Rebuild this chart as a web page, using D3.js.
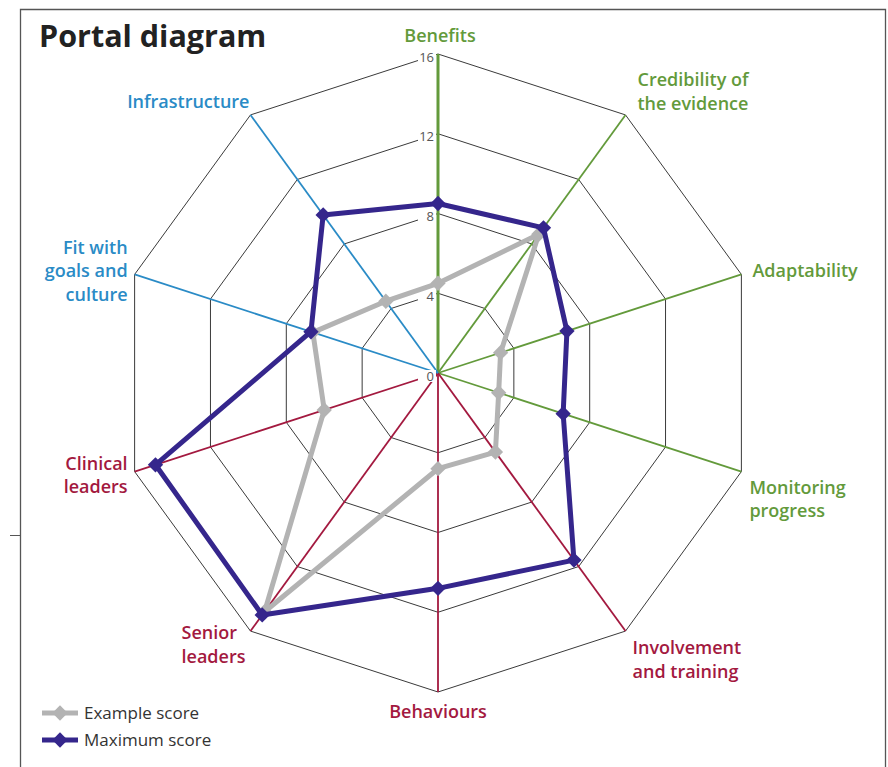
<!DOCTYPE html>
<html>
<head>
<meta charset="utf-8">
<script src="https://cdnjs.cloudflare.com/ajax/libs/d3/7.8.5/d3.min.js"></script>
<style>
  body { margin: 0; background: #fff; }
  svg { display: block; }
</style>
</head>
<body>
<div id="chart"></div>
<script>
// axis names, clockwise from the top
var categories = ["Benefits", "Credibility of\nthe evidence", "Adaptability", "Monitoring\nprogress",
  "Involvement\nand training", "Behaviours", "Senior\nleaders", "Clinical\nleaders",
  "Fit with\ngoals and\nculture", "Infrastructure"];
var groups = ["green", "green", "green", "green", "red", "red", "red", "red", "blue", "blue"];
var exampleScore = [4.5, 8.6, 3.3, 3.2, 4.9, 4.8, 14.8, 6, 6.6, 4.45];
var maximumScore = [8.5, 9, 6.8, 6.6, 11.6, 10.8, 15, 14.9, 6.7, 9.8];
var ticks = [0, 4, 8, 12, 16];
var seriesNames = ["Example score", "Maximum score"];

var width = 888, height = 767;
var cx = 438, cy = 373, R = 319;
var colors = {green: "#639a3b", red: "#a3193f", blue: "#2a8bc6"};
var seriesColors = ["#b3b3b3", "#35268c"];
var font = "'Open Sans', sans-serif";

var svg = d3.select("#chart").append("svg")
    .attr("width", width)
    .attr("height", height);

// frame
svg.append("path")
    .attr("d", "M20.5,767 V9.5 H885.5 V767")
    .attr("fill", "none")
    .attr("stroke", "#555")
    .attr("stroke-width", 1.3);
svg.append("line")
    .attr("x1", 10).attr("x2", 21).attr("y1", 535.5).attr("y2", 535.5)
    .attr("stroke", "#555");

svg.append("text")
    .attr("x", 39).attr("y", 47)
    .style("font-family", font)
    .style("font-weight", 700)
    .style("font-size", "30.5px")
    .attr("fill", "#222")
    .text("Portal diagram");

var g = svg.append("g").attr("transform", "translate(" + cx + "," + cy + ")");

var r = d3.scaleLinear().domain([0, 16]).range([0, R]);
var angle = d3.scaleLinear().domain([0, categories.length]).range([0, 2 * Math.PI]);

function pt(i, v) {
  var a = angle(i);
  return [r(v) * Math.sin(a), -r(v) * Math.cos(a)];
}

// rings
ticks.slice(1).forEach(function(t) {
  g.append("path")
      .attr("d", d3.line()(categories.map(function(c, i) { return pt(i, t); })) + "Z")
      .attr("fill", "none")
      .attr("stroke", "#3a3a3a")
      .attr("stroke-width", 1);
});

// axes
categories.forEach(function(c, i) {
  var p = pt(i, 16);
  g.append("line")
      .attr("x1", 0).attr("y1", 0)
      .attr("x2", p[0]).attr("y2", p[1])
      .attr("stroke", colors[groups[i]])
      .attr("stroke-width", i == 0 ? 3 : 1.8);
});

// tick labels on the top axis
ticks.forEach(function(t) {
  var y = -r(t) + 3;
  g.append("rect")
      .attr("x", -20).attr("y", y - 6)
      .attr("width", 18).attr("height", 12)
      .attr("fill", "#fff");
  g.append("text")
      .attr("x", -4).attr("y", y)
      .attr("dy", "0.35em")
      .attr("text-anchor", "end")
      .style("font-family", font)
      .style("font-size", "13px")
      .attr("fill", "#555")
      .text(t);
});

// series
var line = d3.line().curve(d3.curveLinearClosed);
[exampleScore, maximumScore].forEach(function(data, s) {
  var pts = data.map(function(v, i) { return pt(i, v); });
  g.append("path")
      .attr("d", line(pts))
      .attr("fill", "none")
      .attr("stroke", seriesColors[s])
      .attr("stroke-width", 5)
      .attr("stroke-linejoin", "round");
  g.selectAll(null).data(pts).enter().append("path")
      .attr("d", d3.symbol().type(d3.symbolDiamond2).size(150))
      .attr("transform", function(d) { return "translate(" + d[0] + "," + d[1] + ")"; })
      .attr("fill", seriesColors[s]);
});

// axis labels: anchor and offset from the outer vertex
var labelLayout = [
  {anchor: "middle", dx: 2, dy: -18},
  {anchor: "start", dx: 12, dy: -35},
  {anchor: "start", dx: 11, dy: -4},
  {anchor: "start", dx: 8, dy: 16},
  {anchor: "start", dx: 7, dy: 17},
  {anchor: "middle", dx: 0, dy: 20},
  {anchor: "start", dx: -69, dy: 2},
  {anchor: "end", dx: -7, dy: -8},
  {anchor: "end", dx: -7, dy: -27},
  {anchor: "end", dx: -1, dy: -13}
];
categories.forEach(function(c, i) {
  var p = pt(i, 16), L = labelLayout[i];
  var t = g.append("text")
      .attr("x", p[0] + L.dx)
      .attr("y", p[1] + L.dy)
      .attr("text-anchor", L.anchor)
      .style("font-family", font)
      .style("font-weight", 600)
      .style("font-size", "18px")
      .attr("fill", colors[groups[i]]);
  c.split("\n").forEach(function(s, k) {
    t.append("tspan")
        .attr("x", p[0] + L.dx)
        .attr("dy", k == 0 ? "0.35em" : 23.5)
        .text(s);
  });
});

// legend
var legend = svg.append("g").attr("transform", "translate(42,713)");
seriesNames.forEach(function(name, s) {
  var row = legend.append("g").attr("transform", "translate(0," + (s * 27) + ")");
  row.append("line")
      .attr("x1", 0).attr("x2", 36)
      .attr("stroke", seriesColors[s])
      .attr("stroke-width", 5);
  row.append("path")
      .attr("d", d3.symbol().type(d3.symbolDiamond2).size(150))
      .attr("transform", "translate(18,0)")
      .attr("fill", seriesColors[s]);
  row.append("text")
      .attr("x", 42)
      .attr("dy", "0.35em")
      .style("font-family", font)
      .style("font-size", "17px")
      .attr("fill", "#333")
      .text(name);
});
</script>
</body>
</html>
